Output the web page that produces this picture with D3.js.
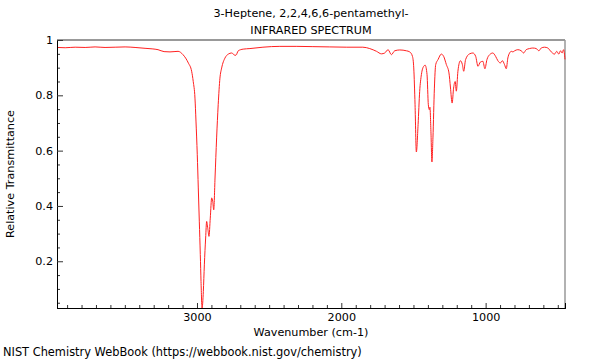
<!DOCTYPE html>
<html>
<head>
<meta charset="utf-8">
<script src="https://cdn.jsdelivr.net/npm/d3@7"></script>
<style>
  body { margin: 0; background: #fff; }
  svg text { font-family: "DejaVu Sans", sans-serif; font-size: 11.2px; fill: #000; }
</style>
</head>
<body>
<div id="chart-area"></div>
<script>
const margin = {top: 40, right: 35, bottom: 52, left: 57};
const width = 600, height = 360;

// spectrum: wavenumber (cm-1) and transmittance
const wavenumbers = [3969,3913,3844,3775,3706,3637,3567,3498,3429,3360,3311,3270,3228,3187,3131,3097,3060,3037,3026,3014,
  3007,2998,2991,2984,2977,2972,2965,2956,2949,2940,2933,2924,2917,2908,2898,2891,2884,2875,2864,2853,
  2841,2829,2806,2783,2760,2737,2730,2714,2680,2633,2543,2426,2308,2197,2080,1962,1851,1803,1756,1722,
  1699,1676,1653,1630,1595,1549,1526,1507,1498,1489,1480,1468,1457,1445,1429,1419,1406,1397,1390,1386,
  1379,1372,1365,1355,1346,1330,1307,1291,1272,1254,1244,1232,1222,1211,1203,1192,1175,1161,1152,1139,
  1111,1088,1069,1053,1037,1019,1005,991,972,950,931,915,898,884,869,857,846,834,822,811,
  799,777,753,737,719,696,673,649,631,615,592,569,545,523,507,493,481,470,460,450];
const transmittance = [0.973,0.972,0.974,0.973,0.975,0.973,0.974,0.975,0.973,0.970,0.968,0.965,0.958,0.957,0.959,0.947,0.917,0.887,0.850,0.790,
  0.707,0.585,0.465,0.345,0.224,0.127,0.030,0.091,0.187,0.284,0.344,0.314,0.290,0.356,0.429,0.417,0.386,0.501,0.646,0.766,
  0.862,0.899,0.935,0.949,0.953,0.945,0.945,0.961,0.967,0.969,0.974,0.977,0.977,0.976,0.975,0.974,0.974,0.969,0.959,0.950,
  0.953,0.965,0.947,0.961,0.964,0.961,0.957,0.941,0.899,0.766,0.595,0.694,0.814,0.875,0.905,0.909,0.875,0.766,0.748,0.757,
  0.670,0.559,0.646,0.826,0.911,0.929,0.949,0.941,0.911,0.881,0.830,0.772,0.826,0.850,0.815,0.887,0.925,0.911,0.887,0.929,
  0.950,0.953,0.941,0.905,0.920,0.923,0.896,0.929,0.947,0.953,0.941,0.925,0.917,0.925,0.911,0.896,0.935,0.953,0.959,0.957,
  0.961,0.965,0.961,0.953,0.965,0.969,0.971,0.969,0.961,0.971,0.974,0.971,0.957,0.949,0.959,0.949,0.961,0.953,0.965,0.930];

const xMajor = [3000, 2000, 1000];
const yMajor = [0.2, 0.4, 0.6, 0.8, 1];
const yTickLabels = ["0.2", "0.4", "0.6", "0.8", "1"];

const svg = d3.select("#chart-area").append("svg")
    .attr("width", width)
    .attr("height", height);

const x = d3.scaleLinear().domain([3970, 450]).range([margin.left, width - margin.right]);
const y = d3.scaleLinear().domain([0.031, 1]).range([height - margin.bottom, margin.top]);

// titles
svg.append("text").attr("x", 311).attr("y", 17).attr("text-anchor", "middle")
    .text("3-Heptene, 2,2,4,6,6-pentamethyl-");
svg.append("text").attr("x", 311).attr("y", 34).attr("text-anchor", "middle")
    .text("INFRARED SPECTRUM");

// frame: grey top and right
svg.append("line").attr("x1", margin.left).attr("x2", width - margin.right)
    .attr("y1", margin.top).attr("y2", margin.top)
    .attr("stroke", "#999").attr("stroke-width", 2);
svg.append("line").attr("x1", width - margin.right).attr("x2", width - margin.right)
    .attr("y1", margin.top).attr("y2", height - margin.bottom)
    .attr("stroke", "#999").attr("stroke-width", 1.5);

// spectrum
const pts = wavenumbers.map((w, i) => [w, transmittance[i]]);
svg.append("path")
    .datum(pts)
    .attr("fill", "none")
    .attr("stroke", "#ff2020")
    .attr("stroke-width", 1)
    .attr("d", d3.line().x(d => x(d[0])).y(d => y(d[1])).curve(d3.curveMonotoneX));

// x axis, ticks pointing inward
const xMinor = d3.range(500, 3970, 100).filter(v => v % 1000 !== 0);
const gx = svg.append("g").attr("transform", `translate(0,${height - margin.bottom})`);
gx.call(d3.axisBottom(x).tickValues(xMinor).tickSize(-3).tickFormat(""));
gx.append("g").call(d3.axisBottom(x).tickValues(xMajor).tickSize(-5).tickPadding(5).tickFormat(d3.format("d")));
gx.selectAll(".domain").attr("stroke", "#000");
gx.selectAll("text").attr("font-family", null).attr("font-size", null).attr("dy", "0.71em");
gx.selectAll(".tick line").attr("stroke", "#333");

// y axis
const yMinor = d3.range(0.05, 1.0, 0.05).filter(v => Math.abs(v * 5 - Math.round(v * 5)) > 1e-6);
const gy = svg.append("g").attr("transform", `translate(${margin.left},0)`);
gy.call(d3.axisLeft(y).tickValues(yMinor).tickSize(-3).tickFormat(""));
gy.append("g").call(d3.axisLeft(y).tickValues(yMajor).tickSize(-6).tickPadding(4)
    .tickFormat((d, i) => yTickLabels[i]));
gy.selectAll(".domain").attr("stroke", "#000");
gy.selectAll("text").attr("font-family", null).attr("font-size", null);
gy.selectAll(".tick line").attr("stroke", "#333");

// axis titles
svg.append("text").attr("x", 311).attr("y", 336).attr("text-anchor", "middle")
    .text("Wavenumber (cm-1)");
svg.append("text").attr("transform", "translate(14,174) rotate(-90)").attr("text-anchor", "middle")
    .text("Relative Transmittance");
svg.append("text").attr("x", 3).attr("y", 356).style("font-size", "11.4px")
    .text("NIST Chemistry WebBook (https://webbook.nist.gov/chemistry)");
</script>
</body>
</html>
